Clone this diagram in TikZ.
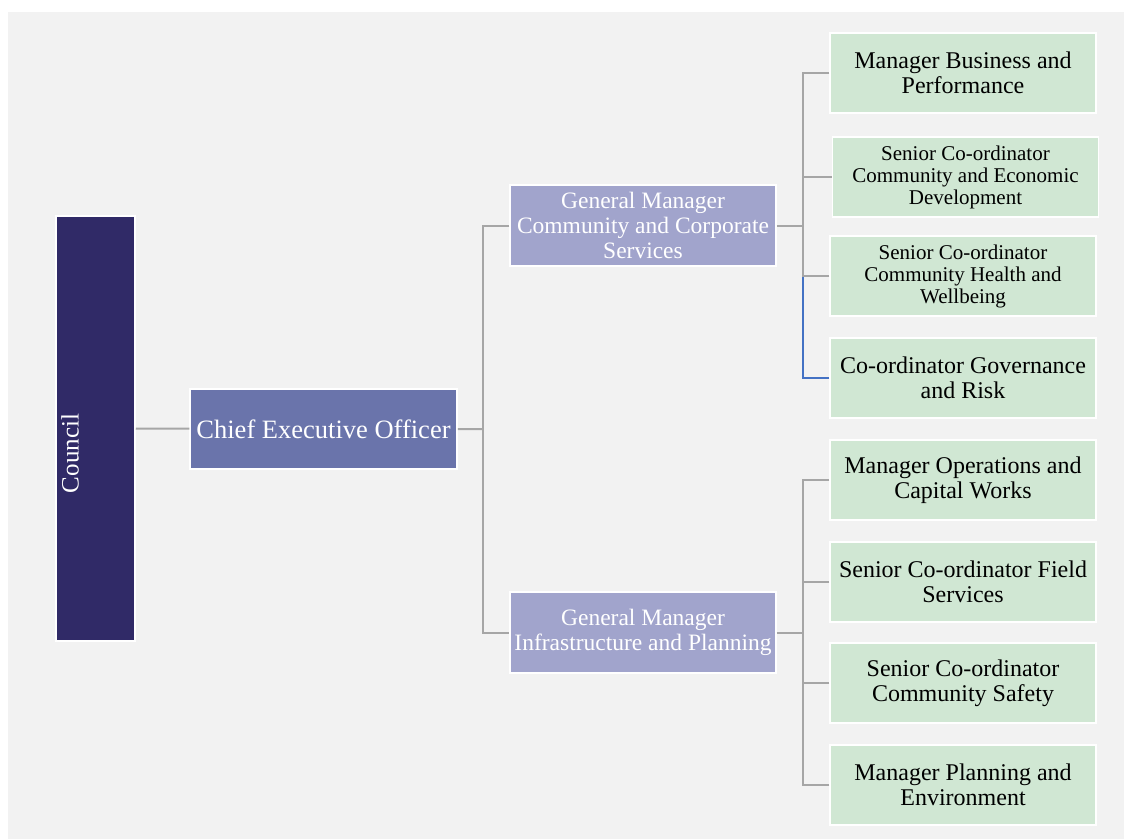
\documentclass[tikz,border=0pt]{standalone}
\usepackage{fontspec}
\setmainfont{Liberation Serif}

\definecolor{bgGrey}{HTML}{F2F2F2}
\definecolor{councilBlue}{HTML}{302A67}
\definecolor{ceoBlue}{HTML}{6A74AB}
\definecolor{gmBlue}{HTML}{A1A4CC}
\definecolor{staffGreen}{HTML}{D0E7D3}
\definecolor{linkGrey}{HTML}{A6A6A6}
\definecolor{linkBlue}{HTML}{4472C4}

\tikzset{
  unit/.style={draw=white, line width=1.5pt, inner sep=0pt, align=center},
  council/.style={unit, fill=councilBlue, text=white, rotate=90,
    minimum width=425pt, minimum height=79pt, font=\fontsize{25}{28}\selectfont},
  ceo/.style={unit, fill=ceoBlue, text=white,
    minimum width=267pt, minimum height=80pt, font=\fontsize{26.5}{28}\selectfont},
  gm/.style={unit, fill=gmBlue, text=white,
    minimum width=266pt, minimum height=81pt, font=\fontsize{23.5}{25}\selectfont},
  staff/.style={unit, fill=staffGreen, text=black,
    minimum width=266pt, minimum height=80pt, font=\fontsize{24}{25}\selectfont},
  staffsmall/.style={staff, font=\fontsize{21}{22}\selectfont},
  link/.style={draw=linkGrey, line width=2pt},
  bluelink/.style={draw=linkBlue, line width=2pt}
}

\begin{document}
\begin{tikzpicture}[x=1pt,y=-1pt]
    \useasboundingbox (0,0) rectangle (1124,839);
    \fill[bgGrey] (8,12) rectangle (1124,839);

    % top levels
    \node[council] (council) at (95.5,428.5)
      {\raisebox{17pt}[0pt][0pt]{\makebox[0pt]{\hspace*{-50pt}Council}}};
    \node[ceo]     (ceo)     at (323.5,429)  {Chief Executive Officer};
    \node[gm]      (gmCorp)  at (643,225.5)  {General Manager\\Community and Corporate\\Services};
    \node[gm]      (gmInfra) at (643,632.5)  {General Manager\\Infrastructure and Planning};

    % community and corporate services
    \node[staff]      (busPerf)  at (963,73)    {Manager Business and\\Performance};
    \node[staffsmall] (econDev)  at (965.5,177) {Senior Co-ordinator\\Community and Economic\\Development};
    \node[staffsmall] (health)   at (963,276)   {Senior Co-ordinator\\Community Health and\\Wellbeing};
    \node[staff]      (govRisk)  at (963,378)   {Co-ordinator Governance\\and Risk};

    % infrastructure and planning
    \node[staff] (opsWorks)  at (963,480) {Manager Operations and\\Capital Works};
    \node[staff] (field)     at (963,582) {Senior Co-ordinator Field\\Services};
    \node[staff] (safety)    at (963,683) {Senior Co-ordinator\\Community Safety};
    \node[staff] (planEnv)   at (963,785) {Manager Planning and\\Environment};

    \coordinate (hubCeo)   at (483,429);
    \coordinate (hubCorp)  at (803,225.5);
    \coordinate (hubInfra) at (803,632.5);

    \draw[link] (council) -- (ceo) -- (hubCeo);
    \draw[link] (gmCorp.west) -| (hubCeo) |- (gmInfra.west);

    \draw[bluelink] (govRisk.west) -| (hubCorp);
    \draw[link] (gmCorp) -- (hubCorp);
    \draw[link] (busPerf.west) -| (hubCorp);
    \draw[link] (econDev.west) -| (hubCorp);
    \draw[link] (health.west) -| (hubCorp);

    \draw[link] (gmInfra) -- (hubInfra);
    \draw[link] (opsWorks.west) -| (hubInfra);
    \draw[link] (field.west) -| (hubInfra);
    \draw[link] (safety.west) -| (hubInfra);
    \draw[link] (planEnv.west) -| (hubInfra);
\end{tikzpicture}
\end{document}
